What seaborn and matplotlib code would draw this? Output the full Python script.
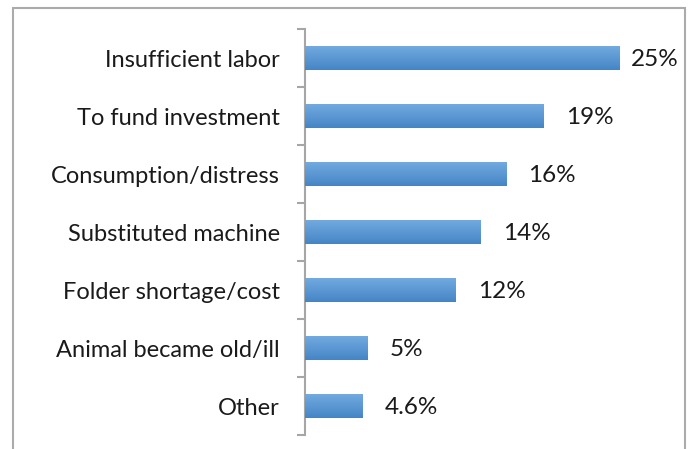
import numpy as np
import pandas as pd
import matplotlib
matplotlib.use('Agg')
import matplotlib.pyplot as plt
import seaborn as sns
from matplotlib.colors import LinearSegmentedColormap
from matplotlib.patches import Rectangle

# data
reasons = ['Insufficient labor', 'To fund investment', 'Consumption/distress',
           'Substituted machine', 'Folder shortage/cost', 'Animal became old/ill', 'Other']
shares = [25, 19, 16, 14, 12, 5, 4.6]
share_labels = ['25%', '19%', '16%', '14%', '12%', '5%', '4.6%']

df = pd.DataFrame({'reason': reasons, 'share': shares})

sns.set_style('white')
plt.rcParams['font.family'] = ['Lato', 'DejaVu Sans']

W, H = 691, 449
fig = plt.figure(figsize=(W / 100, H / 100), dpi=100, facecolor='white')
ax = fig.add_axes([305 / W, 1 - 435 / H, (682 - 305) / W, (435 - 29) / H])

sns.barplot(data=df, x='share', y='reason', orient='h', width=0.4,
            color='#5b9bd5', saturation=1, ax=ax)

# Excel-like vertical gradient on each bar
grad = LinearSegmentedColormap.from_list('g', ['#72aae0', '#4585c6'])
for p in ax.patches:
    x0, y0 = p.get_x(), p.get_y()
    w, h = p.get_width(), p.get_height()
    im = ax.imshow(np.linspace(0, 1, 64).reshape(-1, 1), cmap=grad, aspect='auto',
                   extent=[x0, x0 + w, y0 + h, y0], zorder=3)
    im.set_clip_path(p)
    p.set_edgecolor('none')

ax.set_xlim(0, 30)
ax.set_ylim(6.5, -0.5)
ax.set_xlabel('')
ax.set_ylabel('')
ax.set_xticks([])

for s in ['top', 'right', 'bottom']:
    ax.spines[s].set_visible(False)
ax.spines['left'].set_color('#a6a6a6')
ax.spines['left'].set_linewidth(1.5)

ax.set_yticks(range(len(reasons)))
ax.set_yticklabels(reasons, fontsize=17, color='#1a1a1a')
ax.tick_params(axis='y', which='major', left=False, length=0, pad=18)
ax.set_yticks(np.arange(-0.5, len(reasons), 1), minor=True)
ax.tick_params(axis='y', which='minor', left=True, length=6, width=1.5,
               color='#a6a6a6', direction='out')

for i, (v, lab) in enumerate(zip(shares, share_labels)):
    off = 12 if v == max(shares) else 22
    ax.annotate(lab, (v, i), xytext=(off * 72 / 100, -1), textcoords='offset points',
                ha='left', va='center', fontsize=17.5, color='#1a1a1a')

# chart border (bottom edge falls outside the image)
fig.patches.append(Rectangle((13 / W, -0.05), (685 - 13) / W, 1 - 8 / H + 0.05,
                             transform=fig.transFigure, fill=False,
                             edgecolor='#ababab', linewidth=1.5))

plt.savefig('out.png', dpi=100)
